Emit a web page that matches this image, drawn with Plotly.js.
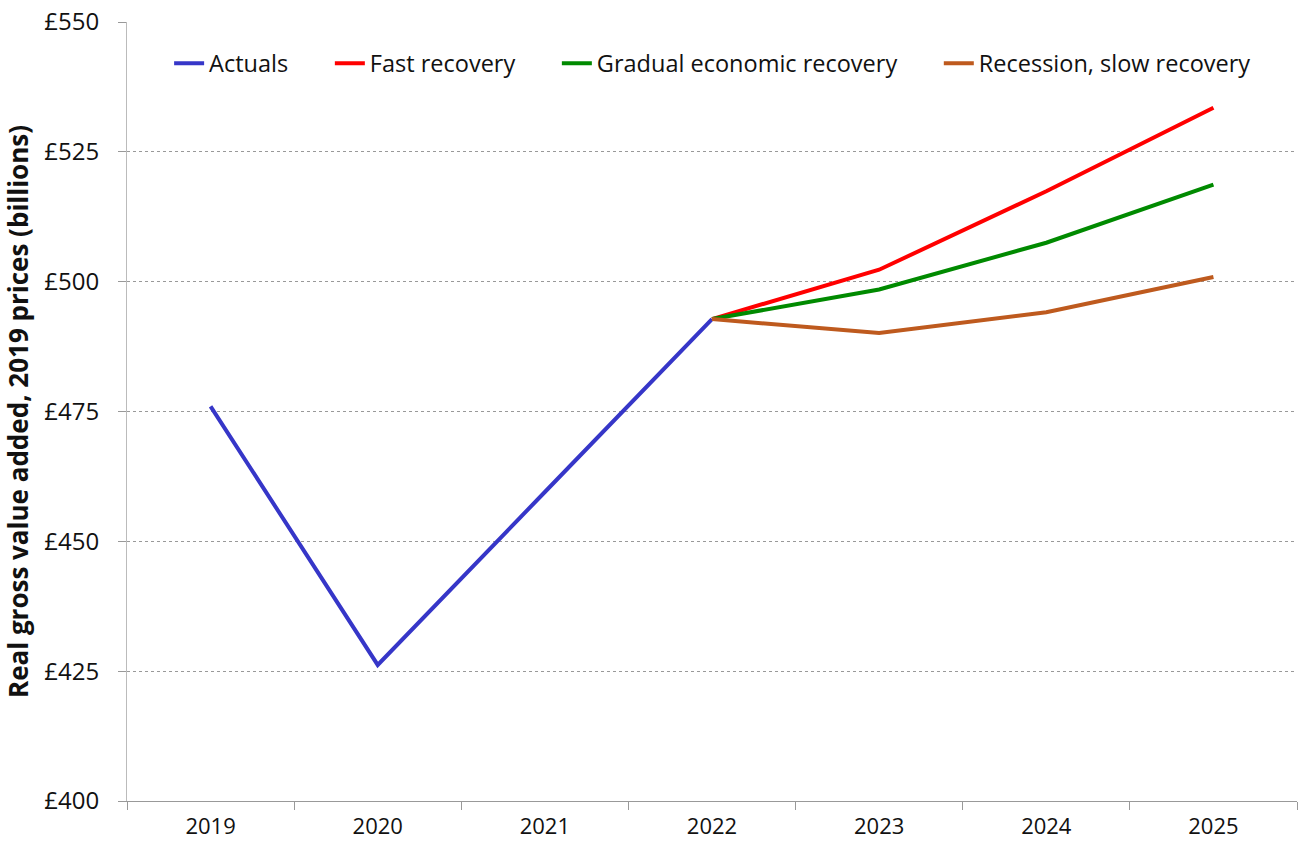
<!DOCTYPE html>
<html>
<head>
<meta charset="utf-8">
<script src="https://cdn.plot.ly/plotly-3.0.1.min.js"></script>
<style>html,body{margin:0;padding:0;background:#fff}#chart{width:1299px;height:845px}</style>
</head>
<body>
<div id="chart"></div>
<script>
const years = ["2019", "2020", "2021", "2022", "2023", "2024", "2025"];
const actualYears = ["2019", "2020", "2021", "2022"];
const actuals = [476.0, 426.2, 459.5, 492.8];
const scenarioYears = ["2022", "2023", "2024", "2025"];
const fastRecovery = [492.8, 502.3, 517.4, 533.5];
const gradualRecovery = [492.8, 498.5, 507.5, 518.7];
const recessionSlow = [492.8, 490.1, 494.1, 500.9];
const yTicks = [400, 425, 450, 475, 500, 525, 550];
const yTickLabels = yTicks.map(v => "£" + v);
const seriesNames = ["Actuals", "Fast recovery", "Gradual economic recovery", "Recession, slow recovery"];

const font = "'Open Sans', sans-serif";
const pad = "\u00A0\u00A0\u00A0\u00A0\u00A0\u00A0";
const traces = [
  {x: actualYears, y: actuals, name: seriesNames[0] + pad, color: "#3636C8"},
  {x: scenarioYears, y: fastRecovery, name: seriesNames[1] + pad, color: "#FF0000"},
  {x: scenarioYears, y: gradualRecovery, name: seriesNames[2] + pad, color: "#008A00"},
  {x: scenarioYears, y: recessionSlow, name: seriesNames[3], color: "#BE5A1E"}
].map(t => ({
  type: "scatter", mode: "lines", x: t.x, y: t.y, name: t.name,
  line: {color: t.color, width: 4}
}));

const layout = {
  width: 1299, height: 845,
  margin: {l: 127, r: 2, t: 22, b: 44},
  paper_bgcolor: "#fff", plot_bgcolor: "#fff",
  font: {family: font, size: 23, color: "#111"},
  showlegend: true,
  legend: {orientation: "h", x: 0.036, y: 0.975, xanchor: "left", yanchor: "top",
           font: {family: font, size: 23.5, color: "#111"}, bgcolor: "rgba(0,0,0,0)", traceorder: "normal"},
  xaxis: {type: "category", categoryorder: "array", categoryarray: years,
          range: [-0.5, 6.5], tickson: "boundaries", ticks: "outside", ticklen: 8,
          tickcolor: "#999", showline: true, linecolor: "#999", linewidth: 1,
          showgrid: false, zeroline: false, ticklabelstandoff: 6,
          tickfont: {family: font, size: 22, color: "#111"}},
  yaxis: {range: [400, 550], tickvals: yTicks, ticktext: yTickLabels,
          ticks: "outside", ticklen: 8, tickcolor: "#999",
          showline: true, linecolor: "#bbb", linewidth: 1, ticklabelstandoff: 14,
          showgrid: true, gridcolor: "#999", griddash: "dot", gridwidth: 1, zeroline: false,
          tickfont: {family: font, size: 24, color: "#111"},
          title: {text: "<b>Real gross value added, 2019 prices (billions)</b>", standoff: 8,
                  font: {family: font, size: 26, color: "#111"}}}
};

Plotly.newPlot("chart", traces, layout, {displayModeBar: false, staticPlot: true});
</script>
</body>
</html>
